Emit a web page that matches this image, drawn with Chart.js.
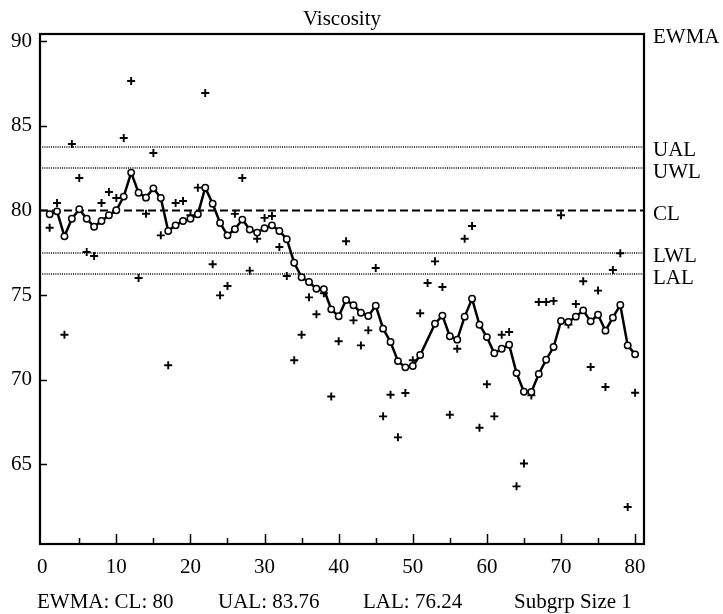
<!DOCTYPE html>
<html>
<head>
<meta charset="utf-8">
<title>Viscosity EWMA</title>
<script src="https://cdn.jsdelivr.net/npm/chart.js@4.4.0/dist/chart.umd.min.js"></script>
<style>
  html, body { margin: 0; padding: 0; background: #fff; }
  canvas { display: block; }
</style>
</head>
<body>
<canvas id="chart" width="723" height="614"></canvas>
<script>
'use strict';

// individual viscosity readings, subgroups 1..80
const viscosity = [
  78.98, 80.44, 72.65, 83.93, 81.92, 77.54, 77.31, 80.44, 81.09, 80.74,
  84.29, 87.66, 76.01, 79.81, 83.40, 78.53, 70.84, 80.44, 80.56, 79.72,
  81.35, 86.95, 76.82, 74.98, 75.53, 79.80, 81.92, 76.44, 78.33, 79.56,
  79.67, 77.84, 76.12, 71.14, 72.65, 74.86, 73.86, 75.10, 69.00, 72.26,
  78.18, 73.50, 72.02, 72.91, 76.60, 67.82, 69.10, 66.58, 69.20, 71.14,
  73.92, 75.71, 76.99, 75.47, 67.92, 71.82, 78.33, 79.08, 67.15, 69.72,
  67.82, 72.65, 72.81, 63.68, 65.03, 69.06, 74.59, 74.59, 74.65, 79.72,
  73.25, 74.47, 75.81, 70.74, 75.26, 69.56, 76.48, 77.47, 62.46, 69.22
];

// EWMA statistic (no marker plotted at subgroup 52)
const ewma = [
  79.78, 79.95, 78.47, 79.51, 80.07, 79.51, 79.04, 79.38, 79.72, 80.01,
  80.82, 82.24, 81.05, 80.76, 81.31, 80.74, 78.79, 79.12, 79.38, 79.51,
  79.78, 81.35, 80.40, 79.26, 78.53, 78.89, 79.46, 78.87, 78.69, 78.95,
  79.12, 78.79, 78.30, 76.91, 76.05, 75.77, 75.37, 75.34, 74.15, 73.74,
  74.70, 74.39, 73.95, 73.76, 74.37, 73.01, 72.22, 71.09, 70.72, 70.80,
  71.45, null, 73.30, 73.78, 72.56, 72.36, 73.72, 74.78, 73.24, 72.51,
  71.55, 71.82, 72.06, 70.38, 69.28, 69.26, 70.33, 71.17, 71.92, 73.46,
  73.40, 73.72, 74.09, 73.44, 73.83, 72.89, 73.66, 74.41, 72.02, 71.49
];

const limitNames = ['UAL', 'UWL', 'CL', 'LWL', 'LAL'];
const limitValues = [83.76, 82.51, 80, 77.49, 76.24];

const xTicks = [0, 10, 20, 30, 40, 50, 60, 70, 80];
const yTicks = [65, 70, 75, 80, 85, 90];
const footer = ['EWMA: CL: 80', 'UAL: 83.76', 'LAL: 76.24', 'Subgrp Size 1'];

const X_MIN = -0.3, X_MAX = 81.2;
const Y_MIN = 60.27, Y_MAX = 90.44;
const FONT = '"Liberation Serif", "Times New Roman", serif';
const TEXT_SIZE = 21;

let subgroups = [];
for (let i = 1; i <= viscosity.length; i++) subgroups.push(i);

let limitSets = limitNames.map((name, i) => ({
  label: name,
  data: [{ x: X_MIN, y: limitValues[i] }, { x: X_MAX, y: limitValues[i] }],
  borderColor: '#000',
  borderWidth: name === 'CL' ? 2 : 1.5,
  borderDash: name === 'CL' ? [8, 4] : [1, 1.2],
  pointRadius: 0,
  order: 3
}));

// frame, inward tick marks and all the side/footer text
const decorations = {
  id: 'decorations',
  afterDraw(chart) {
    const { ctx, chartArea: a, scales } = chart;
    const xs = scales.x, ys = scales.y;
    ctx.save();
    ctx.strokeStyle = '#000';
    ctx.lineWidth = 2.2;
    ctx.strokeRect(a.left, a.top, a.right - a.left, a.bottom - a.top);

    ctx.lineWidth = 1.5;
    ctx.beginPath();
    for (let v = 5; v <= 80; v += 5) {
      const px = Math.round(xs.getPixelForValue(v)) + 0.5;
      const len = v % 10 === 0 ? 10 : 6;
      ctx.moveTo(px, a.bottom);
      ctx.lineTo(px, a.bottom - len);
    }
    yTicks.forEach(v => {
      const py = Math.round(ys.getPixelForValue(v)) + 0.5;
      ctx.moveTo(a.left, py);
      ctx.lineTo(a.left + 7, py);
    });
    ctx.stroke();

    ctx.fillStyle = '#000';
    ctx.font = TEXT_SIZE + 'px ' + FONT;
    ctx.textBaseline = 'middle';
    ctx.textAlign = 'center';
    ctx.fillText('Viscosity', (a.left + a.right) / 2, 19);

    ctx.textAlign = 'left';
    ctx.fillText('EWMA', a.right + 9, a.top + 3);
    limitNames.forEach((name, i) => {
      ctx.fillText(name, a.right + 9, ys.getPixelForValue(limitValues[i]) + 4);
    });

    const footX = [37, 218, 363, 514];
    footer.forEach((t, i) => ctx.fillText(t, footX[i], 602));
    ctx.restore();
  }
};

const myChart = new Chart(document.getElementById('chart'), {
  type: 'line',
  data: {
    datasets: [
      {
        label: 'EWMA',
        data: subgroups.map((x, i) => ({ x: x, y: ewma[i] })),
        borderColor: '#000',
        borderWidth: 2.5,
        pointRadius: 3.2,
        pointBackgroundColor: '#fff',
        pointBorderColor: '#000',
        pointBorderWidth: 1.5,
        spanGaps: true,
        tension: 0,
        order: 1
      },
      {
        label: 'Viscosity',
        data: subgroups.map((x, i) => ({ x: x, y: viscosity[i] })),
        showLine: false,
        pointStyle: 'cross',
        pointRadius: 4,
        pointBorderWidth: 1.9,
        borderColor: '#000',
        order: 2
      },
      ...limitSets
    ]
  },
  options: {
    responsive: false,
    animation: false,
    devicePixelRatio: 1,
    layout: { padding: { top: 34, right: 79, bottom: 0, left: 0 } },
    plugins: {
      legend: { display: false },
      tooltip: { enabled: false }
    },
    scales: {
      x: {
        type: 'linear',
        min: X_MIN,
        max: X_MAX,
        afterBuildTicks: s => { s.ticks = xTicks.map(v => ({ value: v })); },
        afterFit: s => { s.height = 70; },
        grid: { display: false, drawTicks: false },
        border: { display: false },
        ticks: { color: '#000', font: { family: FONT, size: TEXT_SIZE }, padding: 11, maxRotation: 0, autoSkip: false }
      },
      y: {
        min: Y_MIN,
        max: Y_MAX,
        afterBuildTicks: s => { s.ticks = yTicks.map(v => ({ value: v })); },
        afterFit: s => { s.width = 40; },
        grid: { display: false, drawTicks: false },
        border: { display: false },
        ticks: { color: '#000', font: { family: FONT, size: TEXT_SIZE }, padding: 8 }
      }
    }
  },
  plugins: [decorations]
});
</script>
</body>
</html>
